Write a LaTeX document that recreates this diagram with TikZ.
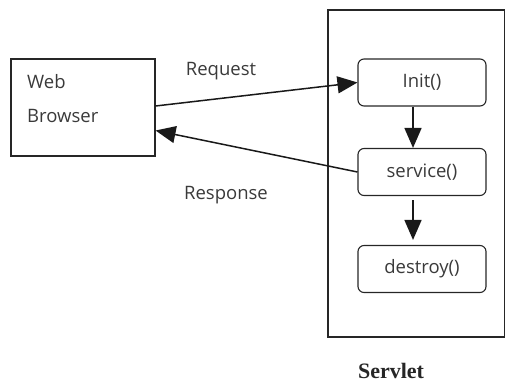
\documentclass[tikz,border=0pt]{standalone}
\usepackage{fontspec}
\setmainfont{Open Sans}
\newfontfamily\servletfont{Liberation Serif}
\usepackage{tikz}
\usetikzlibrary{positioning, calc, arrows.meta}
\definecolor{inkgray}{HTML}{3A3A3A}
\newcommand{\Lbl}{\fontsize{18.5}{34}\selectfont\color{inkgray}}

\begin{document}
\begin{tikzpicture}[>={Triangle[length=20pt,width=17pt]}, x=1pt, y=-1pt,
    box/.style={draw=black!85, line width=1.1pt, inner sep=0pt},
    method/.style={box, rounded corners=6pt, minimum width=128pt,
        minimum height=47pt, font=\Lbl},
    flow/.style={line width=1.5pt, black!90}]

    \useasboundingbox (0,0) rectangle (505,385);

    \draw(83,107.5) node[box, minimum width=144pt, minimum height=97pt] (browser) {};
    \draw(27,74) node[anchor=north west, inner sep=0pt, align=left, font=\Lbl]
        (browsertext) {Web\\Browser};

    \draw(416.5,173.5) node[box, minimum width=177pt, minimum height=327pt] (servlet) {};
    \draw(422,82.5) node[method] (init) {Init()};
    \draw(422,172) node[method] (service) {service()};
    \draw(422,269) node[method] (destroy) {destroy()};

    \draw(221,71) node[font=\Lbl] (request) {Request};
    \draw(226,195) node[font=\Lbl] (response) {Response};
    \draw(391,371) node[font=\servletfont\bfseries\fontsize{22}{24}\selectfont\color{black!85}]
        (servletname) {Servlet};

    \draw[flow, ->] ($(browser.east)+(0,-1.5)$) to (init.west);
    \draw[flow, ->] (service.west) to ($(browser.east)+(0,23)$);
    \draw[flow, ->] ($(init.south)+(-9,0)$) to ($(service.north)+(-9,0)$);
    \draw[flow, ->, shorten <=4pt, shorten >=5pt] ($(service.south)+(-9,0)$)
        to ($(destroy.north)+(-9,0)$);

\end{tikzpicture}
\end{document}
